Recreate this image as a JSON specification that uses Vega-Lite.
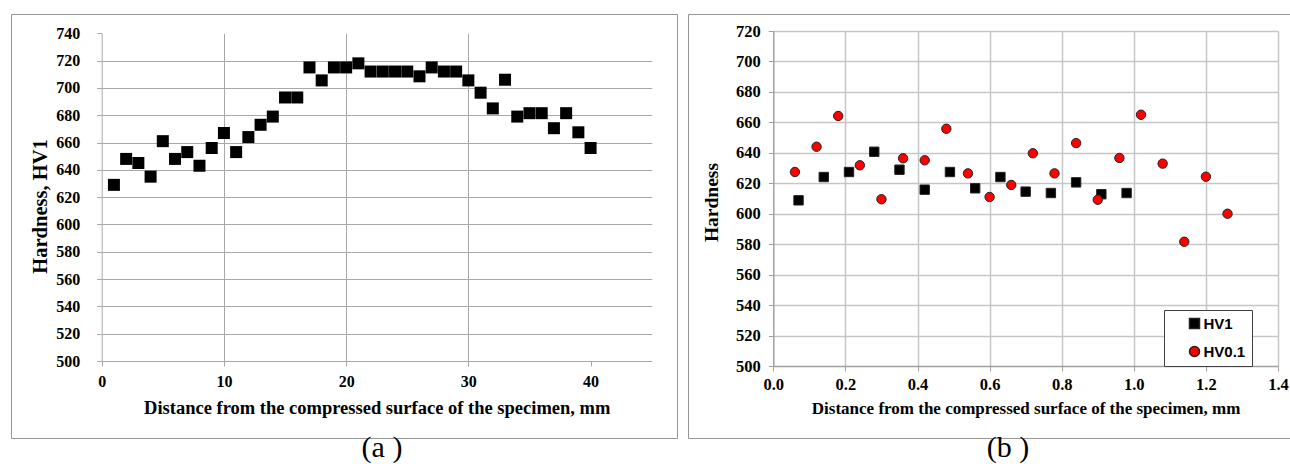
{
  "$schema": "https://vega.github.io/schema/vega-lite/v6.json",
  "background": "white",
  "padding": {"left": 10, "top": 13, "right": 0, "bottom": 0},
  "spacing": 9,
  "config": {"view": {"stroke": "#959595", "strokeWidth": 1, "fill": "white"}},
  "datasets": {
    "a": [
      {"distance": 1, "hardness": 629}, {"distance": 2, "hardness": 648}, {"distance": 3, "hardness": 645},
      {"distance": 4, "hardness": 635}, {"distance": 5, "hardness": 661}, {"distance": 6, "hardness": 648},
      {"distance": 7, "hardness": 653}, {"distance": 8, "hardness": 643}, {"distance": 9, "hardness": 656},
      {"distance": 10, "hardness": 667}, {"distance": 11, "hardness": 653}, {"distance": 12, "hardness": 664},
      {"distance": 13, "hardness": 673}, {"distance": 14, "hardness": 679}, {"distance": 15, "hardness": 693},
      {"distance": 16, "hardness": 693}, {"distance": 17, "hardness": 715}, {"distance": 18, "hardness": 705.5},
      {"distance": 19, "hardness": 715}, {"distance": 20, "hardness": 715}, {"distance": 21, "hardness": 718},
      {"distance": 22, "hardness": 712}, {"distance": 23, "hardness": 712}, {"distance": 24, "hardness": 712},
      {"distance": 25, "hardness": 712}, {"distance": 26, "hardness": 708.5}, {"distance": 27, "hardness": 715},
      {"distance": 28, "hardness": 712}, {"distance": 29, "hardness": 712}, {"distance": 30, "hardness": 705.5},
      {"distance": 31, "hardness": 696.5}, {"distance": 32, "hardness": 685}, {"distance": 33, "hardness": 706},
      {"distance": 34, "hardness": 679}, {"distance": 35, "hardness": 681.5}, {"distance": 36, "hardness": 681.5},
      {"distance": 37, "hardness": 670.5}, {"distance": 38, "hardness": 681.5}, {"distance": 39, "hardness": 667.5},
      {"distance": 40, "hardness": 656}
    ],
    "b": [
      {"series": "HV1", "distance": 0.07, "hardness": 608.8},
      {"series": "HV1", "distance": 0.14, "hardness": 624.1},
      {"series": "HV1", "distance": 0.21, "hardness": 627.4},
      {"series": "HV1", "distance": 0.28, "hardness": 640.7},
      {"series": "HV1", "distance": 0.35, "hardness": 628.9},
      {"series": "HV1", "distance": 0.42, "hardness": 615.8},
      {"series": "HV1", "distance": 0.49, "hardness": 627.4},
      {"series": "HV1", "distance": 0.56, "hardness": 616.7},
      {"series": "HV1", "distance": 0.63, "hardness": 624.1},
      {"series": "HV1", "distance": 0.70, "hardness": 614.5},
      {"series": "HV1", "distance": 0.77, "hardness": 613.6},
      {"series": "HV1", "distance": 0.84, "hardness": 620.6},
      {"series": "HV1", "distance": 0.91, "hardness": 612.8},
      {"series": "HV1", "distance": 0.98, "hardness": 613.6},
      {"series": "HV0.1", "distance": 0.06, "hardness": 627.4},
      {"series": "HV0.1", "distance": 0.12, "hardness": 644.0},
      {"series": "HV0.1", "distance": 0.18, "hardness": 664.2},
      {"series": "HV0.1", "distance": 0.24, "hardness": 631.8},
      {"series": "HV0.1", "distance": 0.30, "hardness": 609.5},
      {"series": "HV0.1", "distance": 0.36, "hardness": 636.4},
      {"series": "HV0.1", "distance": 0.42, "hardness": 635.1},
      {"series": "HV0.1", "distance": 0.48, "hardness": 655.8},
      {"series": "HV0.1", "distance": 0.54, "hardness": 626.5},
      {"series": "HV0.1", "distance": 0.60, "hardness": 611.0},
      {"series": "HV0.1", "distance": 0.66, "hardness": 618.9},
      {"series": "HV0.1", "distance": 0.72, "hardness": 639.7},
      {"series": "HV0.1", "distance": 0.78, "hardness": 626.5},
      {"series": "HV0.1", "distance": 0.84, "hardness": 646.4},
      {"series": "HV0.1", "distance": 0.90, "hardness": 609.2},
      {"series": "HV0.1", "distance": 0.96, "hardness": 636.6},
      {"series": "HV0.1", "distance": 1.02, "hardness": 665.0},
      {"series": "HV0.1", "distance": 1.08, "hardness": 632.9},
      {"series": "HV0.1", "distance": 1.14, "hardness": 581.6},
      {"series": "HV0.1", "distance": 1.20, "hardness": 624.3},
      {"series": "HV0.1", "distance": 1.26, "hardness": 600.0}
    ]
  },
  "hconcat": [
    {
      "width": 666,
      "height": 424,
      "data": {"name": "a"},
      "title": {"text": "(a )", "orient": "bottom", "anchor": "middle", "font": "Liberation Serif", "fontSize": 30, "fontWeight": "normal", "color": "black", "offset": -5, "dx": 38},
      "mark": {"type": "square", "size": 144, "color": "black", "opacity": 1},
      "encoding": {
        "x": {
          "field": "distance", "type": "quantitative",
          "scale": {"domain": [0, 45], "range": [90.7, 640.7], "nice": false, "zero": false},
          "axis": {
            "orient": "top", "offset": -347, "values": [0, 10, 20, 30, 40],
            "grid": true, "gridColor": "#a8a8a8",
            "gridOpacity": {"condition": {"test": "datum.value == 40 || datum.value == 0", "value": 0}, "value": 1},
            "domainColor": "#a8a8a8", "tickColor": "#a8a8a8", "tickSize": -5,
            "labelFont": "Liberation Serif", "labelFontWeight": "bold", "labelFontSize": 16, "labelColor": "black",
            "labelPadding": -7, "labelBaseline": "top", "labelFlush": false, "labelOverlap": false,
            "title": "Distance from the compressed surface of the specimen, mm",
            "titleFont": "Liberation Serif", "titleFontWeight": "bold", "titleFontSize": 18.5, "titleColor": "black",
            "titleX": 365.7, "titleY": 37.5, "titleBaseline": "top", "titleAlign": "center"
          }
        },
        "y": {
          "field": "hardness", "type": "quantitative",
          "scale": {"domain": [500, 740], "range": [347, 19.3], "nice": false, "zero": false},
          "axis": {
            "orient": "left", "offset": -90.7,
            "values": [500, 520, 540, 560, 580, 600, 620, 640, 660, 680, 700, 720, 740],
            "grid": true, "gridColor": "#a8a8a8",
            "gridOpacity": {"condition": {"test": "datum.value == 740 || datum.value == 500", "value": 0}, "value": 1},
            "domainColor": "#a8a8a8", "tickColor": "#a8a8a8", "tickSize": 5,
            "labelFont": "Liberation Serif", "labelFontWeight": "bold", "labelFontSize": 16, "labelColor": "black",
            "labelPadding": 17, "labelFlush": false, "labelOverlap": false,
            "title": "Hardness, HV1",
            "titleFont": "Liberation Serif", "titleFontWeight": "bold", "titleFontSize": 20.5, "titleColor": "black",
            "titleX": -51, "titleY": 192, "titleAngle": 270, "titleBaseline": "bottom", "titleAlign": "center"
          }
        }
      }
    },
    {
      "width": 604,
      "height": 424,
      "data": {"name": "b"},
      "title": {"text": "(b )", "orient": "bottom", "anchor": "middle", "font": "Liberation Serif", "fontSize": 30, "fontWeight": "normal", "color": "black", "offset": -5, "dx": 18},
      "mark": {"type": "point", "filled": true, "opacity": 1, "size": 88, "stroke": "#222222", "strokeWidth": 1},
      "encoding": {
        "x": {
          "field": "distance", "type": "quantitative",
          "scale": {"domain": [0, 1.4], "range": [85.3, 590], "nice": false, "zero": false},
          "axis": {
            "orient": "top", "offset": -352, "values": [0, 0.2, 0.4, 0.6, 0.8, 1.0, 1.2, 1.4], "format": ".1f",
            "grid": true, "gridColor": "#c6c6c6", "gridWidth": 1.5,
            "gridOpacity": {"condition": {"test": "datum.value == 0", "value": 0}, "value": 1},
            "domainColor": "#a0a0a0", "domainWidth": 1.5, "tickColor": "#a0a0a0", "tickSize": -5,
            "labelFont": "Liberation Serif", "labelFontWeight": "bold", "labelFontSize": 16.5, "labelColor": "black",
            "labelPadding": -5.5, "labelBaseline": "top", "labelFlush": false, "labelOverlap": false,
            "title": "Distance from the compressed surface of the specimen, mm",
            "titleFont": "Liberation Serif", "titleFontWeight": "bold", "titleFontSize": 17, "titleColor": "black",
            "titleX": 337.6, "titleY": 34, "titleBaseline": "top", "titleAlign": "center"
          }
        },
        "y": {
          "field": "hardness", "type": "quantitative",
          "scale": {"domain": [500, 720], "range": [352, 17], "nice": false, "zero": false},
          "axis": {
            "orient": "left", "offset": -85.3,
            "values": [500, 520, 540, 560, 580, 600, 620, 640, 660, 680, 700, 720],
            "grid": true, "gridColor": "#c6c6c6", "gridWidth": 1.5,
            "gridOpacity": {"condition": {"test": "datum.value == 500", "value": 0}, "value": 1},
            "domainColor": "#a0a0a0", "domainWidth": 1.5, "tickColor": "#a0a0a0", "tickSize": 5,
            "labelFont": "Liberation Serif", "labelFontWeight": "bold", "labelFontSize": 16.5, "labelColor": "black",
            "labelPadding": 8, "labelFlush": false, "labelOverlap": false,
            "title": "Hardness",
            "titleFont": "Liberation Serif", "titleFontWeight": "bold", "titleFontSize": 19.5, "titleColor": "black",
            "titleX": -52, "titleY": 188, "titleAngle": 270, "titleBaseline": "bottom", "titleAlign": "center"
          }
        },
        "color": {
          "field": "series", "type": "nominal",
          "scale": {"domain": ["HV1", "HV0.1"], "range": ["#000000", "#ff0000"]},
          "legend": {
            "orient": "none", "legendX": 1153, "legendY": 296, "title": null,
            "padding": 6, "symbolOffset": 17, "rowPadding": 11,
            "labelFont": "Liberation Sans", "labelFontSize": 15, "labelFontWeight": "bold", "labelColor": "black", "labelOffset": 1.5,
            "strokeColor": "#404040", "fillColor": "white"
          }
        },
        "shape": {
          "field": "series", "type": "nominal",
          "scale": {"domain": ["HV1", "HV0.1"], "range": ["square", "circle"]},
          "legend": {
            "orient": "none", "legendX": 1153, "legendY": 296, "title": null,
            "padding": 6, "symbolOffset": 17, "rowPadding": 11,
            "labelFont": "Liberation Sans", "labelFontSize": 15, "labelFontWeight": "bold", "labelColor": "black", "labelOffset": 1.5,
            "strokeColor": "#404040", "fillColor": "white"
          }
        }
      }
    }
  ]
}
